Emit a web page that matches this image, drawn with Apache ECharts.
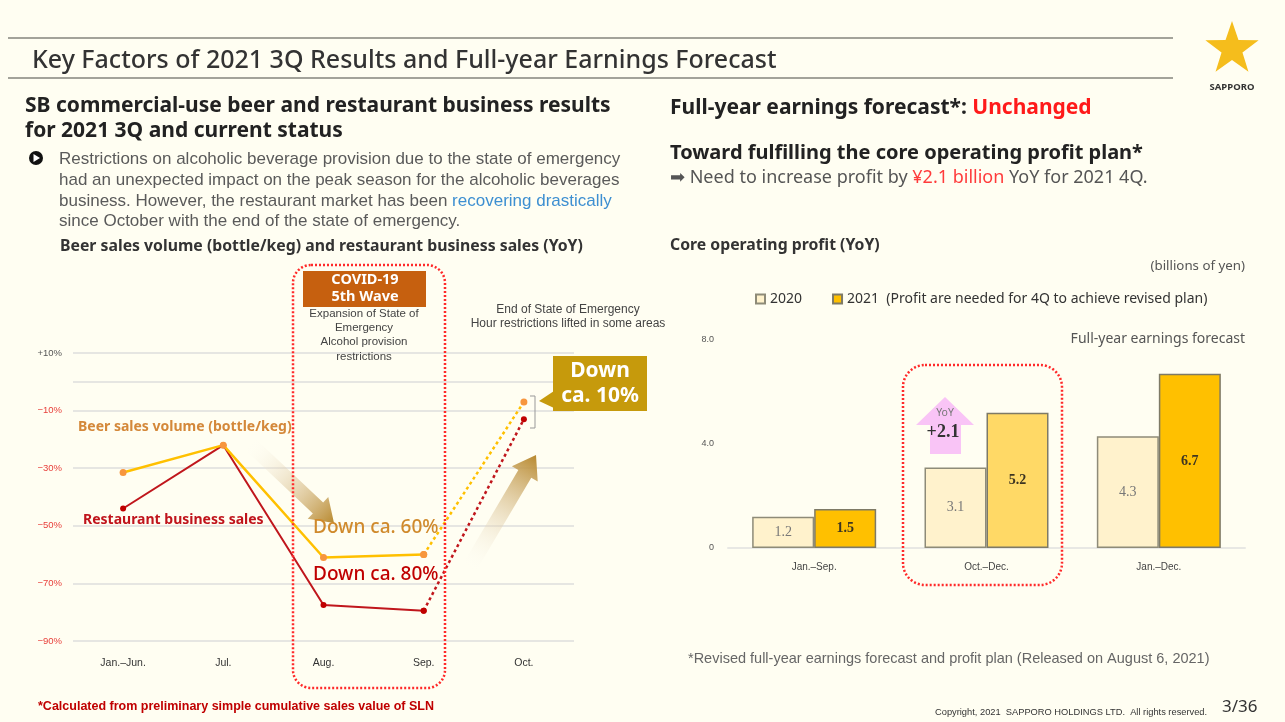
<!DOCTYPE html>
<html>
<head>
<meta charset="utf-8">
<script src="https://cdn.jsdelivr.net/npm/echarts@6/dist/echarts.min.js"></script>
<style>
  html, body { margin: 0; padding: 0; background: #fffef2; }
  #main { width: 1285px; height: 722px; }
</style>
</head>
<body>
<div id="main"></div>
<script>
  // left chart: beer / restaurant YoY (%)
  const lineCats = ['Jan.–Jun.', 'Jul.', 'Aug.', 'Sep.', 'Oct.'];
  const beerYoY = [-31.5, -22, -61, -60, -7];
  const restaurantYoY = [-44, -22, -77.5, -79.5, -13];
  const pctTicks = [10, 0, -10, -30, -50, -70, -90];
  const pctTickLabels = ['+10%', '', '−10%', '−30%', '−50%', '−70%', '−90%'];

  // right chart: core operating profit (billions of yen)
  const barCats = ['Jan.–Sep.', 'Oct.–Dec.', 'Jan.–Dec.'];
  const profit2020 = [1.2, 3.1, 4.3];
  const profit2021 = [1.5, 5.2, 6.7];

  const SANS = '"Noto Sans", "Liberation Sans", sans-serif';
  const BODY = '"Liberation Sans", "Noto Sans", sans-serif';
  const SERIF = '"Liberation Serif", "DejaVu Serif", serif';

  // solid part = Jan–Sep, dotted part = Sep–Oct
  const solidPart = arr => arr.map((v, i) => (i < 4 ? v : '-'));
  const dottedPart = arr => arr.map((v, i) => (i >= 3 ? v : '-'));

  function arrowPts(x1, y1, x2, y2, sw, hw, hl) {
    const dx = x2 - x1, dy = y2 - y1, L = Math.hypot(dx, dy);
    const ux = dx / L, uy = dy / L, px = -uy, py = ux;
    const bx = x2 - ux * hl, by = y2 - uy * hl;
    return [
      [x1 + px * sw / 2, y1 + py * sw / 2],
      [bx + px * sw / 2, by + py * sw / 2],
      [bx + px * hw / 2, by + py * hw / 2],
      [x2, y2],
      [bx - px * hw / 2, by - py * hw / 2],
      [bx - px * sw / 2, by - py * sw / 2],
      [x1 - px * sw / 2, y1 - py * sw / 2]
    ];
  }

  function starPts(cx, cy, R, r) {
    const pts = [];
    for (let i = 0; i < 10; i++) {
      const a = -Math.PI / 2 + i * Math.PI / 5;
      const rr = i % 2 ? r : R;
      pts.push([cx + rr * Math.cos(a), cy + rr * Math.sin(a)]);
    }
    return pts;
  }

  function txt(x, y, text, font, fill, align, extra) {
    return Object.assign({
      type: 'text', x: x, y: y, z: 20,
      style: { text: text, font: font, fill: fill || '#333', align: align || 'left', verticalAlign: 'middle' }
    }, extra || {});
  }

  function arrowGrad(x1, y1, x2, y2) {
    return {
      type: 'linear', x: x1, y: y1, x2: x2, y2: y2, global: true,
      colorStops: [
        { offset: 0, color: 'rgba(255,255,255,0)' },
        { offset: 1, color: '#b8892f' }
      ]
    };
  }

  const graphics = [
    // header
    { type: 'line', shape: { x1: 8, y1: 38, x2: 1173, y2: 38 }, style: { stroke: '#85857c', lineWidth: 1.5 } },
    { type: 'line', shape: { x1: 8, y1: 78, x2: 1173, y2: 78 }, style: { stroke: '#85857c', lineWidth: 1.5 } },
    txt(32, 61, 'Key Factors of 2021 3Q Results and Full-year Earnings Forecast', '500 25px ' + SANS, '#333'),
    { type: 'polygon', shape: { points: starPts(1232, 49, 28, 11) }, style: { fill: '#f5bd1c' } },
    txt(1232, 87, 'SAPPORO', 'bold 9.5px ' + SANS, '#333', 'center'),

    // left text
    txt(25, 106, 'SB commercial-use beer and restaurant business results', 'bold 21px ' + SANS, '#222'),
    txt(25, 131, 'for 2021 3Q and current status', 'bold 21px ' + SANS, '#222'),
    { type: 'circle', shape: { cx: 36, cy: 158, r: 7 }, style: { fill: '#111' } },
    { type: 'polygon', shape: { points: [[33.5, 154], [33.5, 162], [40, 158]] }, style: { fill: '#fff' }, z: 21 },
    txt(59, 159, 'Restrictions on alcoholic beverage provision due to the state of emergency', '17px ' + BODY, '#5a5a5a'),
    txt(59, 180, 'had an unexpected impact on the peak season for the alcoholic beverages', '17px ' + BODY, '#5a5a5a'),
    {
      type: 'text', x: 59, y: 201, z: 20,
      style: {
        text: '{g|business. However, the restaurant market has been }{b|recovering drastically}',
        verticalAlign: 'middle',
        rich: {
          g: { font: '17px ' + BODY, fill: '#5a5a5a' },
          b: { font: '17px ' + BODY, fill: '#3d8fd1' }
        }
      }
    },
    txt(59, 221, 'since October with the end of the state of emergency.', '17px ' + BODY, '#5a5a5a'),
    txt(60, 246, 'Beer sales volume (bottle/keg) and restaurant business sales (YoY)', 'bold 15.8px ' + SANS, '#333'),

    // right text
    {
      type: 'text', x: 670, y: 108, z: 20,
      style: {
        text: '{k|Full-year earnings forecast*: }{r|Unchanged}',
        verticalAlign: 'middle',
        rich: {
          k: { font: 'bold 21px ' + SANS, fill: '#222' },
          r: { font: 'bold 21px ' + SANS, fill: '#ff1a1a' }
        }
      }
    },
    txt(670, 153, 'Toward fulfilling the core operating profit plan*', 'bold 20px ' + SANS, '#222'),
    {
      type: 'text', x: 670, y: 178, z: 20,
      style: {
        text: '{g|➡ Need to increase profit by }{r|¥2.1 billion}{g| YoY for 2021 4Q.}',
        verticalAlign: 'middle',
        rich: {
          g: { font: '18px ' + SANS, fill: '#555' },
          r: { font: '18px ' + SANS, fill: '#ff3b3b' }
        }
      }
    },
    txt(670, 245, 'Core operating profit (YoY)', 'bold 15.8px ' + SANS, '#333'),
    txt(1245, 266, '(billions of yen)', '13.3px ' + SANS, '#555', 'right'),
    txt(1245, 339, 'Full-year earnings forecast', '14px ' + SANS, '#555', 'right'),

    // left chart annotations
    {
      type: 'rect', shape: { x: 293, y: 265, width: 152, height: 423, r: 18 }, z: 15,
      style: { fill: 'none', stroke: '#ff2a2a', lineWidth: 2.5, lineDash: [2, 2] }
    },
    { type: 'rect', shape: { x: 303, y: 271, width: 123, height: 36 }, style: { fill: '#c6600f' }, z: 16 },
    txt(365, 280, 'COVID-19', 'bold 14.5px ' + SANS, '#fff', 'center'),
    txt(365, 297, '5th Wave', 'bold 14.5px ' + SANS, '#fff', 'center'),
    txt(364, 314, 'Expansion of State of', '11.5px ' + BODY, '#444', 'center'),
    txt(364, 328, 'Emergency', '11.5px ' + BODY, '#444', 'center'),
    txt(364, 342, 'Alcohol provision', '11.5px ' + BODY, '#444', 'center'),
    txt(364, 357, 'restrictions', '11.5px ' + BODY, '#444', 'center'),
    txt(568, 310, 'End of State of Emergency', '12px ' + BODY, '#444', 'center'),
    txt(568, 324, 'Hour restrictions lifted in some areas', '12px ' + BODY, '#444', 'center'),
    txt(78, 427, 'Beer sales volume (bottle/keg)', 'bold 14px ' + SANS, '#d4883a'),
    txt(83, 520, 'Restaurant business sales', 'bold 14px ' + SANS, '#c0141c'),
    txt(313, 528, 'Down ca. 60%', '500 19px ' + SANS, '#d08a2c'),
    txt(313, 575, 'Down ca. 80%', '500 19px ' + SANS, '#c00000'),
    { type: 'rect', shape: { x: 553, y: 356, width: 94, height: 55 }, style: { fill: '#c69a0c' }, z: 16 },
    { type: 'polygon', shape: { points: [[554, 391], [539, 401], [554, 408]] }, style: { fill: '#c69a0c' }, z: 16 },
    txt(600, 371, 'Down', 'bold 21px ' + SANS, '#fff', 'center'),
    txt(600, 396, 'ca. 10%', 'bold 21px ' + SANS, '#fff', 'center'),
    { type: 'polyline', shape: { points: [[530, 396], [535, 396], [535, 428], [530, 428]] }, style: { stroke: '#999', lineWidth: 1, fill: 'none' }, z: 16 },
    {
      type: 'polygon', z: 14,
      shape: { points: arrowPts(248, 442, 334, 523, 15, 30, 22) },
      style: { fill: arrowGrad(248, 442, 334, 523) }
    },
    {
      type: 'polygon', z: 14,
      shape: { points: arrowPts(468, 570, 536, 455, 15, 30, 22) },
      style: { fill: arrowGrad(468, 570, 536, 455) }
    },

    // right chart annotations
    {
      type: 'rect', shape: { x: 903, y: 365, width: 159, height: 220, r: 22 }, z: 15,
      style: { fill: 'none', stroke: '#ff2a2a', lineWidth: 2.5, lineDash: [2, 2] }
    },
    {
      type: 'polygon', z: 14,
      shape: { points: [[945, 397], [974, 425], [961, 425], [961, 454], [930, 454], [930, 425], [916, 425]] },
      style: { fill: '#f9c4f6' }
    },
    txt(945, 413, 'YoY', '10.5px ' + SANS, '#777', 'center'),
    txt(943, 432, '+2.1', 'bold 18px ' + SERIF, '#333', 'center'),

    // footer
    txt(688, 659, '*Revised full-year earnings forecast and profit plan (Released on August 6, 2021)', '14.5px ' + BODY, '#666'),
    txt(38, 707, '*Calculated from preliminary simple cumulative sales value of SLN', 'bold 12.5px ' + BODY, '#c00000'),
    txt(935, 712, 'Copyright, 2021  SAPPORO HOLDINGS LTD.  All rights reserved.', '9.3px ' + BODY, '#333'),
    txt(1222, 707, '3/36', '17px ' + SANS, '#333')
  ];

  const option = {
    backgroundColor: '#fffef2',
    animation: false,
    grid: [
      { left: 73, right: 711, top: 353, bottom: 81 },
      { left: 728, right: 40, top: 340, bottom: 174 }
    ],
    legend: {
      left: 750, top: 287,
      data: ['2020', '2021'],
      icon: 'rect', itemWidth: 9, itemHeight: 9, itemGap: 30,
      textStyle: { fontFamily: SANS, fontSize: 14, color: '#333' },
      formatter: name => (name === '2021' ? '2021  (Profit are needed for 4Q to achieve revised plan)' : name)
    },
    xAxis: [
      {
        gridIndex: 0, type: 'category', data: lineCats,
        axisLine: { show: false }, axisTick: { show: false },
        axisLabel: { fontSize: 10.5, color: '#333', margin: 17, fontFamily: BODY }
      },
      {
        gridIndex: 1, type: 'category', data: barCats,
        axisLine: { lineStyle: { color: '#e8e8e4', width: 2 } }, axisTick: { show: false },
        axisLabel: { fontSize: 10, color: '#444', margin: 14, fontFamily: BODY }
      }
    ],
    yAxis: [
      {
        gridIndex: 0, type: 'value', min: -90, max: 10,
        axisLabel: { show: false }, splitLine: { show: false }, axisLine: { show: false }, axisTick: { show: false }
      },
      {
        gridIndex: 1, type: 'value', min: 0, max: 8, interval: 4,
        axisLabel: {
          fontSize: 9, color: '#555', margin: 14, fontFamily: BODY,
          formatter: v => (v === 0 ? '0' : v.toFixed(1))
        },
        splitLine: { show: false }, axisLine: { show: false }, axisTick: { show: false }
      }
    ],
    series: [
      {
        name: 'restaurant', type: 'line', xAxisIndex: 0, yAxisIndex: 0, z: 3,
        data: solidPart(restaurantYoY),
        symbol: 'circle', symbolSize: 6,
        lineStyle: { color: '#c0161c', width: 2 },
        itemStyle: { color: '#c00000' },
        markLine: {
          silent: true, symbol: 'none', z: 1,
          lineStyle: { color: '#e6e6e2', width: 2, type: 'solid' },
          label: { position: 'start', distance: 11, fontSize: 9.5, fontFamily: BODY },
          data: pctTicks.map((v, i) => ({
            yAxis: v,
            label: {
              show: pctTickLabels[i] !== '',
              formatter: pctTickLabels[i],
              color: v > 0 ? '#555' : '#e8403c'
            }
          }))
        }
      },
      {
        name: 'restaurantOct', type: 'line', xAxisIndex: 0, yAxisIndex: 0, z: 3,
        data: dottedPart(restaurantYoY),
        symbol: 'circle', symbolSize: 6,
        lineStyle: { color: '#c0161c', width: 2.5, type: [3, 3] },
        itemStyle: { color: '#c00000' }
      },
      {
        name: 'beer', type: 'line', xAxisIndex: 0, yAxisIndex: 0, z: 4,
        data: solidPart(beerYoY),
        symbol: 'circle', symbolSize: 7,
        lineStyle: { color: '#ffc000', width: 2.5 },
        itemStyle: { color: '#f7963e' }
      },
      {
        name: 'beerOct', type: 'line', xAxisIndex: 0, yAxisIndex: 0, z: 4,
        data: dottedPart(beerYoY),
        symbol: 'circle', symbolSize: 7,
        lineStyle: { color: '#ffc000', width: 2.5, type: [3, 3] },
        itemStyle: { color: '#f7963e' }
      },
      {
        name: '2020', type: 'bar', xAxisIndex: 1, yAxisIndex: 1,
        data: profit2020, barWidth: 62, barGap: '0%',
        itemStyle: { color: '#fff2cc', borderColor: '#8e8b78', borderWidth: 1.5 },
        label: {
          show: true, position: 'inside', fontFamily: SERIF, fontSize: 14, color: '#777',
          formatter: p => p.value.toFixed(1)
        }
      },
      {
        name: '2021', type: 'bar', xAxisIndex: 1, yAxisIndex: 1,
        data: profit2021.map((v, i) => (i === 1 ? { value: v, itemStyle: { color: '#ffd966' } } : v)),
        barWidth: 62,
        itemStyle: { color: '#ffc000', borderColor: '#7e7a66', borderWidth: 1.5 },
        label: {
          show: true, position: 'inside', fontFamily: SERIF, fontSize: 14, fontWeight: 'bold', color: '#3d3522',
          formatter: p => p.value.toFixed(1)
        }
      }
    ],
    graphic: graphics
  };

  const chart = echarts.init(document.getElementById('main'));
  chart.setOption(option);
</script>
</body>
</html>
